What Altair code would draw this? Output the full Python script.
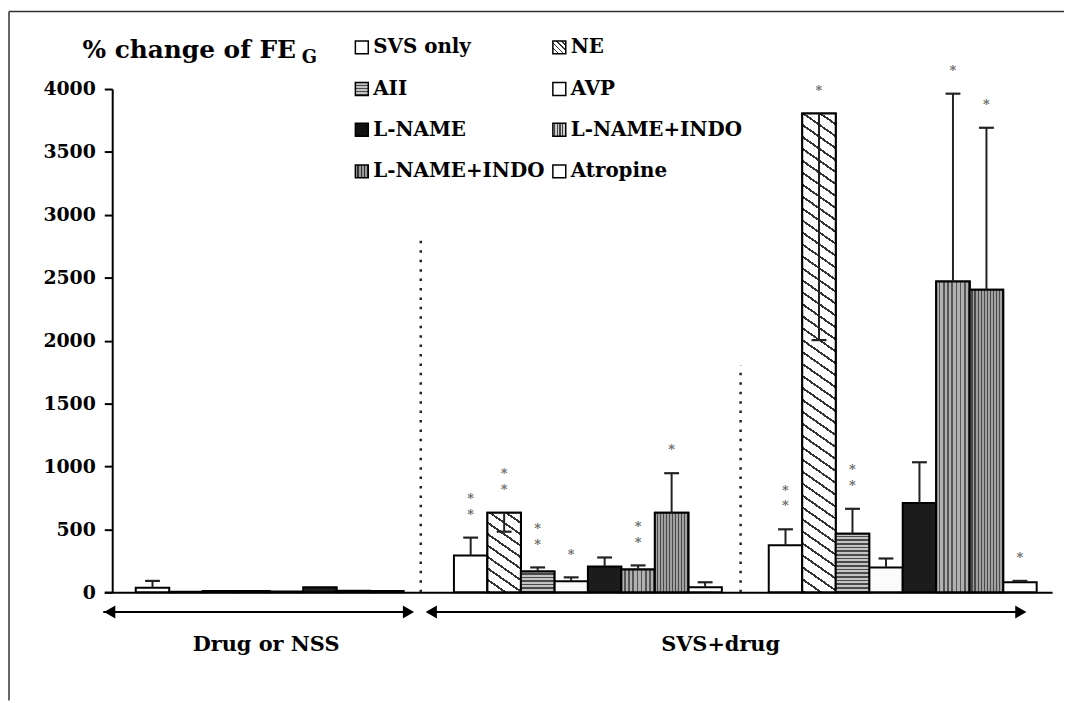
import altair as alt
import pandas as pd

# ------------------------------------------------------------------ data
categories = ["SVS only", "NE", "AII", "AVP", "L-NAME", "L-NAME+INDO",
              "L-NAME+INDO (2)", "Atropine"]
legend_labels = ["SVS only", "NE", "AII", "AVP", "L-NAME", "L-NAME+INDO",
                 "L-NAME+INDO", "Atropine"]

# group 1: drug (or NSS) alone
left_order = ["SVS only", "NE", "AII", "AVP", "Atropine", "L-NAME",
              "L-NAME+INDO", "L-NAME+INDO (2)"]
left_values = [35, 3, 10, 10, 5, 40, 12, 10]
left_err = [90, None, None, None, None, None, None, None]
left_stars = [0, 0, 0, 0, 0, 0, 0, 0]

# group 2: SVS + drug (first period)
mid_order = categories
mid_values = [292, 631, 165, 87, 205, 181, 631, 39]
mid_err = [434, 481, 197, 118, 276, 213, 946, 79]
mid_stars = [2, 2, 2, 1, 0, 2, 1, 0]

# group 3: SVS + drug (second period)
right_order = categories
right_values = [373, 3805, 465, 197, 710, 2469, 2404, 79]
right_err = [500, 2004, 663, 268, 1033, 3963, 3692, 90]
right_stars = [2, 1, 2, 0, 0, 1, 1, 1]

y_ticks = [0, 500, 1000, 1500, 2000, 2500, 3000, 3500, 4000]
section_labels = ["Drug or NSS", "SVS+drug"]
title_main = "% change of FE"
title_sub = "G"
star_glyph = "*"

# ------------------------------------------------------------------ layout
FONT = "DejaVu Serif"
PLOT_W, PLOT_H = 955, 507
Y_MAX = 4000
X_MIN, X_MAX = -0.24, 28.06
PX_X = PLOT_W / (X_MAX - X_MIN)
PX_Y = PLOT_H / Y_MAX
GROUP_START = [0.7, 10.2, 19.6]
CAP_HALF = 7.5 / PX_X
SEP_X = [9.21, 18.76]
SEP_TOP = [2820, 1800]

XS = alt.Scale(domain=[X_MIN, X_MAX], nice=False, zero=False)
YS = alt.Scale(domain=[0, Y_MAX], nice=False)

base_colors = ["#ffffff", "#ffffff", "#bdbdbd", "#fbfbfb", "#1c1c1c",
               "#9a9a9a", "#8a8a8a", "#ffffff"]

rows = []
groups = [(left_order, left_values, left_err, left_stars),
          (mid_order, mid_values, mid_err, mid_stars),
          (right_order, right_values, right_err, right_stars)]
for g, (order, vals, errs, stars) in enumerate(groups):
    for i, (c, v, e, s) in enumerate(zip(order, vals, errs, stars)):
        x0 = GROUP_START[g] + i
        rows.append(dict(group=g, cat=c, x0=x0, x1=x0 + 1, xc=x0 + 0.5,
                         cl=x0 + 0.5 - CAP_HALF, cr=x0 + 0.5 + CAP_HALF,
                         value=v, err=e, stars=s,
                         top=max(v, e) if e is not None else v, zero=0))
df = pd.DataFrame(rows)


def stripe_stops(n, frac, bg, fg):
    stops = []
    for i in range(n):
        a = i / n
        b = (i + 1 - frac) / n
        c = (i + 1) / n
        stops += [{"offset": round(a, 5), "color": bg},
                  {"offset": round(b, 5), "color": bg},
                  {"offset": round(b, 5), "color": fg},
                  {"offset": round(c, 5), "color": fg}]
    return stops


def diag_grad(W, H, m=0.7, period=12.0, line=2.4, bg="#ffffff", fg="#333333"):
    k = m * W / H
    a = (k + 1) / (k * k + 1)
    n = max(1, round((m * W + H) / period))
    p = (m * W + H) / n
    return {"gradient": "linear", "x1": 1, "y1": 0, "x2": 1 - a * k, "y2": a,
            "stops": stripe_stops(n, min(0.5, line / p), bg, fg)}


def hgrad(H, period=3.6, line=1.6, bg="#c4c4c4", fg="#4a4a4a"):
    n = max(1, round(H / period))
    p = H / n
    return {"gradient": "linear", "x1": 0, "y1": 0, "x2": 0, "y2": 1,
            "stops": stripe_stops(n, min(0.5, line / p), bg, fg)}


def vgrad(W, period=4.0, line=1.6, bg="#b0b0b0", fg="#555555"):
    n = max(1, round(W / period))
    p = W / n
    return {"gradient": "linear", "x1": 0, "y1": 0, "x2": 1, "y2": 0,
            "stops": stripe_stops(n, min(0.5, line / p), bg, fg)}


YAXIS = alt.Axis(values=y_ticks, format="d", tickSize=8, tickWidth=2,
                 tickColor="black", domainColor="black", domainWidth=2,
                 labelFont=FONT, labelFontSize=19, labelFontWeight="bold",
                 labelColor="black", labelPadding=9, grid=False, title=None,
                 offset=-8)
XAXIS = alt.Axis(domain=True, domainColor="black", domainWidth=2, ticks=False,
                 labels=False, grid=False, title=None)


def X(field):
    return alt.X(field, scale=XS, axis=XAXIS)


def Y(field):
    return alt.Y(field, scale=YS, axis=YAXIS)


layers = []

# base bars
layers.append(
    alt.Chart(df).mark_rect(stroke="black", strokeWidth=2).encode(
        x=X("x0:Q"), x2="x1:Q", y=Y("value:Q"), y2="zero:Q",
        fill=alt.Fill("cat:N", scale=alt.Scale(domain=categories, range=base_colors),
                      legend=None),
    )
)

# patterned overlays
W_BAR = PX_X
for idx, r in df.iterrows():
    H = r["value"] * PX_Y
    if H < 5:
        continue
    if r["cat"] == "NE":
        grad = diag_grad(W_BAR, H)
    elif r["cat"] == "AII":
        grad = hgrad(H)
    elif r["cat"] == "L-NAME+INDO":
        grad = vgrad(W_BAR)
    elif r["cat"] == "L-NAME+INDO (2)":
        grad = vgrad(W_BAR, period=3.0, line=1.3, bg="#a0a0a0", fg="#4a4a4a")
    else:
        continue
    layers.append(
        alt.Chart(df.loc[[idx]]).mark_rect(fill=grad, stroke="black", strokeWidth=2).encode(
            x=X("x0:Q"), x2="x1:Q", y=Y("value:Q"), y2="zero:Q",
        )
    )

df_err = df[df["err"].notna()]
layers.append(
    alt.Chart(df_err).mark_rule(color="#222222", strokeWidth=2).encode(
        x=X("xc:Q"), y=Y("value:Q"), y2="err:Q")
)
layers.append(
    alt.Chart(df_err).mark_rule(color="#222222", strokeWidth=2.2).encode(
        x=X("cl:Q"), x2="cr:Q", y=Y("err:Q"))
)

# significance stars (one text item per bar, stacked lines for "**")
STAR_LH = 16
for n_star, txt, dy in [(1, star_glyph, -16), (2, [star_glyph, star_glyph], -16 - STAR_LH)]:
    layers.append(
        alt.Chart(df[df["stars"] == n_star]).mark_text(
            font=FONT, fontSize=13, fontWeight="bold", color="#6a6a6a",
            baseline="bottom", lineHeight=STAR_LH, dy=dy
        ).encode(x=X("xc:Q"), y=Y("top:Q"), text=alt.value(txt))
    )

# dotted separators
sep_df = pd.DataFrame({"x": SEP_X, "top": SEP_TOP, "zero": [0, 0]})
layers.append(
    alt.Chart(sep_df).mark_rule(color="#222222", strokeWidth=2.5, strokeDash=[2.5, 7]).encode(
        x=X("x:Q"), y=Y("zero:Q"), y2="top:Q")
)

one = alt.Data(values=[{"k": 0}])
OX, OY = 105, 87  # page position of plot origin


def px(v):
    return v - OX


def py(v):
    return v - OY


def rule(x1, y1, x2, y2, w=2, color="black"):
    return alt.Chart(one).mark_rule(color=color, strokeWidth=w).encode(
        x=alt.value(px(x1)), x2=alt.value(px(x2)),
        y=alt.value(py(y1)), y2=alt.value(py(y2)))


def text(s, x, y, size, align="left", baseline="middle", weight="bold"):
    return alt.Chart(one).mark_text(font=FONT, fontSize=size, fontWeight=weight,
                                    align=align, baseline=baseline, color="black").encode(
        x=alt.value(px(x)), y=alt.value(py(y)), text=alt.value(s))


def head(x, y, shape):
    return alt.Chart(one).mark_point(shape=shape, filled=True, size=170,
                                     color="black", opacity=1).encode(
        x=alt.value(px(x)), y=alt.value(py(y)))


# frame
layers.append(rule(9, 9, 9, 703, w=1.5, color="#333333"))
layers.append(rule(9, 9, 1072, 9, w=1.5, color="#333333"))

# title
layers.append(text(title_main, 83, 56, 25, baseline="alphabetic"))
layers.append(text(title_sub, 304, 61, 18, baseline="alphabetic"))

# legend
LEG_X = [358, 557]
LEG_Y = [45, 87, 128, 170]
SQ = 13
leg_fills = ["#ffffff", diag_grad(SQ, SQ, m=1.0, period=5.0, line=1.5),
             hgrad(SQ, period=3.0, line=1.3), "#ffffff", "#111111",
             vgrad(SQ, period=2.6, line=1.2, bg="#cfcfcf", fg="#444444"),
             vgrad(SQ, period=3.2, line=1.3, bg="#9a9a9a", fg="#333333"), "#ffffff"]
for i, lab in enumerate(legend_labels):
    sx = LEG_X[i % 2]
    sy = LEG_Y[i // 2]
    layers.append(
        alt.Chart(one).mark_rect(fill=leg_fills[i], stroke="black", strokeWidth=1.5).encode(
            x=alt.value(px(sx)), x2=alt.value(px(sx + SQ)),
            y=alt.value(py(sy - SQ / 2)), y2=alt.value(py(sy + SQ / 2)))
    )
    layers.append(text(lab, sx + SQ + 5, sy, 20))

# bottom arrows and section labels
AY = 614
layers.append(rule(104, AY, 414, AY, w=2))
layers.append(head(104 + 6.5, AY, "triangle-left"))
layers.append(head(418 - 6.5, AY, "triangle-right"))
layers.append(rule(432, AY, 1031, AY, w=2))
layers.append(head(428 + 6.5, AY, "triangle-left"))
layers.append(head(1035 - 6.5, AY, "triangle-right"))
layers.append(text(section_labels[0], 268, 647, 21, align="center"))
layers.append(text(section_labels[1], 726, 647, 21, align="center"))

chart = alt.layer(*layers).properties(
    width=PLOT_W, height=PLOT_H,
    padding={"left": OX - 8, "top": OY - 8, "right": 1072 - 8 - (OX - 8) - PLOT_W,
             "bottom": 703 - 8 - (OY - 8) - PLOT_H},
    autosize=alt.AutoSizeParams(type="none"),
).configure_view(stroke=None)

chart.save("out.html", embed_options={"renderer": "svg", "actions": False})
